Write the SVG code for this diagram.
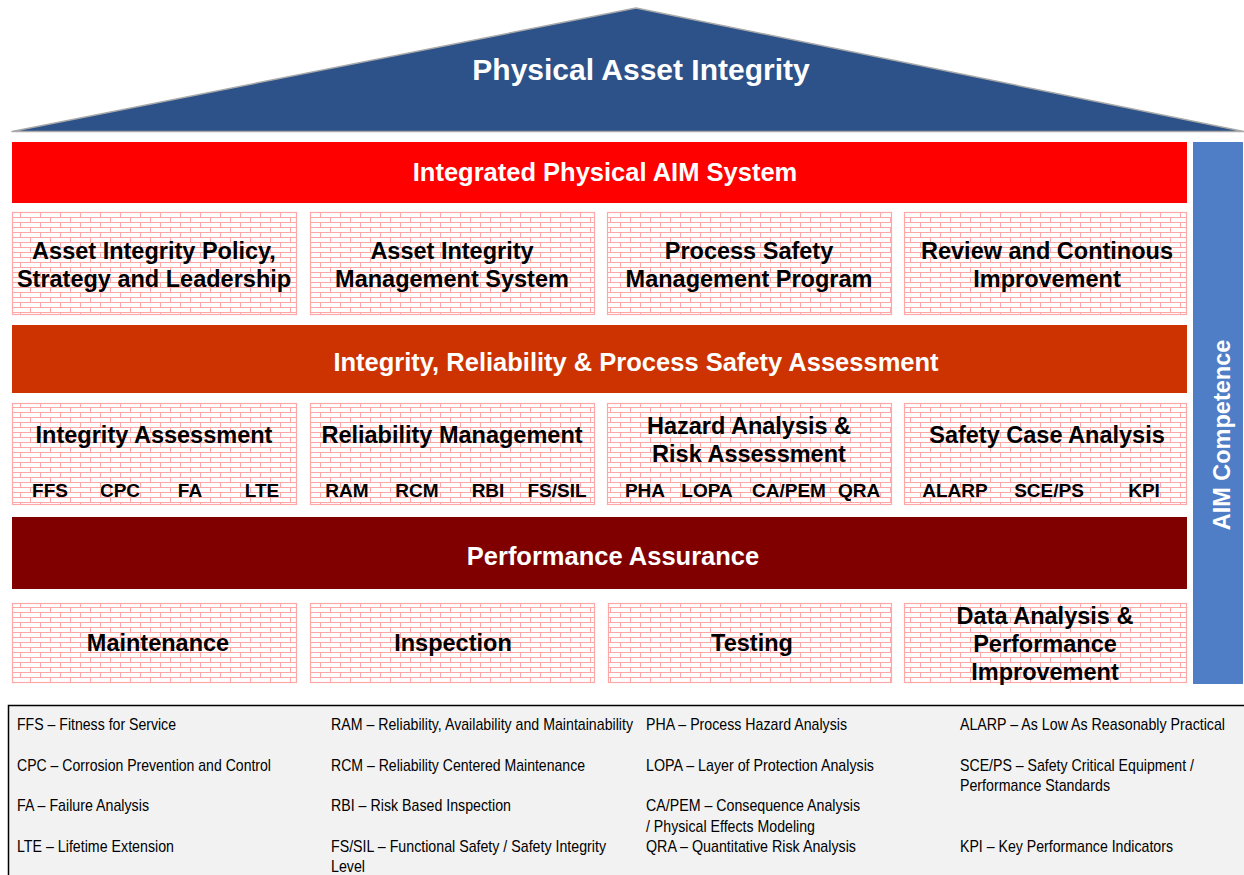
<svg xmlns="http://www.w3.org/2000/svg" width="1244" height="875" viewBox="0 0 1244 875">
  <defs>
    <pattern id="bricks" patternUnits="userSpaceOnUse" x="0" y="2" width="20" height="10">
      <rect width="20" height="10" fill="#ffffff"/>
      <path d="M0 0.5H20M0 5.5H20M0.5 0.5V5.5M10.5 5.5V10.5" fill="none" stroke="#ffa6a6" stroke-width="1"/>
    </pattern>
    <style>
      .brick { fill: url(#bricks); stroke: #ffa8a8; stroke-width: 1.2; }
      .bold { font-family: "Liberation Sans", Arial, sans-serif; font-weight: bold; text-anchor: middle; }
      .boxt { font-size: 23.5px; fill: #000000; }
      .sub { font-size: 19px; fill: #000000; }
      .bar { font-size: 25.5px; fill: #ffffff; }
      .leg { font-family: "Liberation Sans", Arial, sans-serif; font-size: 17px; fill: #000000; }
    </style>
  </defs>

  <rect width="1244" height="875" fill="#ffffff"/>

  <!-- roof -->
  <g id="roof">
    <polygon points="12,131.5 636,8 1244,131.5" fill="#2c5289" stroke="#a9a9a9" stroke-width="1.5" stroke-linejoin="round"/>
    <text class="bold" x="641" y="80" font-size="30" fill="#ffffff">Physical Asset Integrity</text>
  </g>

  <!-- AIM system bar -->
  <g id="aim-system">
    <rect x="12" y="142" width="1175" height="61" fill="#ff0000"/>
    <text class="bold bar" x="605" y="181">Integrated Physical AIM System</text>
  </g>

  <!-- row 1 -->
  <g id="policy">
    <rect class="brick" x="12.5" y="212.5" width="284" height="102"/>
    <text class="bold boxt" x="154" y="258.5">Asset Integrity Policy,</text>
    <text class="bold boxt" x="154" y="286.5">Strategy and Leadership</text>
  </g>
  <g id="aims">
    <rect class="brick" x="310.5" y="212.5" width="284" height="102"/>
    <text class="bold boxt" x="452" y="258.5">Asset Integrity</text>
    <text class="bold boxt" x="452" y="286.5">Management System</text>
  </g>
  <g id="psm">
    <rect class="brick" x="607.5" y="212.5" width="284" height="102"/>
    <text class="bold boxt" x="749" y="258.5">Process Safety</text>
    <text class="bold boxt" x="749" y="286.5">Management Program</text>
  </g>
  <g id="review">
    <rect class="brick" x="904.5" y="212.5" width="282" height="102"/>
    <text class="bold boxt" x="1047" y="258.5">Review and Continous</text>
    <text class="bold boxt" x="1047" y="286.5">Improvement</text>
  </g>

  <!-- assessment bar -->
  <g id="assessment">
    <rect x="12" y="325" width="1175" height="68" fill="#cc3300"/>
    <text class="bold bar" x="636" y="371">Integrity, Reliability &amp; Process Safety Assessment</text>
  </g>

  <!-- row 2 -->
  <g id="integrity-assessment">
    <rect class="brick" x="12.5" y="403.5" width="284" height="101"/>
    <text class="bold boxt" x="154" y="442.5">Integrity Assessment</text>
    <text class="bold sub" x="50" y="497">FFS</text>
    <text class="bold sub" x="120" y="497">CPC</text>
    <text class="bold sub" x="190" y="497">FA</text>
    <text class="bold sub" x="262" y="497">LTE</text>
  </g>
  <g id="reliability">
    <rect class="brick" x="310.5" y="403.5" width="284" height="101"/>
    <text class="bold boxt" x="452" y="442.5">Reliability Management</text>
    <text class="bold sub" x="347" y="497">RAM</text>
    <text class="bold sub" x="417" y="497">RCM</text>
    <text class="bold sub" x="488" y="497">RBI</text>
    <text class="bold sub" x="557" y="497">FS/SIL</text>
  </g>
  <g id="hazard">
    <rect class="brick" x="607.5" y="403.5" width="284" height="101"/>
    <text class="bold boxt" x="749" y="433.5">Hazard Analysis &amp;</text>
    <text class="bold boxt" x="749" y="461.5">Risk Assessment</text>
    <text class="bold sub" x="645" y="497">PHA</text>
    <text class="bold sub" x="707" y="497">LOPA</text>
    <text class="bold sub" x="789" y="497">CA/PEM</text>
    <text class="bold sub" x="859" y="497">QRA</text>
  </g>
  <g id="safety-case">
    <rect class="brick" x="904.5" y="403.5" width="282" height="101"/>
    <text class="bold boxt" x="1047" y="442.5">Safety Case Analysis</text>
    <text class="bold sub" x="955" y="497">ALARP</text>
    <text class="bold sub" x="1049" y="497">SCE/PS</text>
    <text class="bold sub" x="1144" y="497">KPI</text>
  </g>

  <!-- performance bar -->
  <g id="performance">
    <rect x="12" y="517" width="1175" height="72" fill="#800000"/>
    <text class="bold bar" x="613" y="565">Performance Assurance</text>
  </g>

  <!-- row 3 -->
  <g id="maintenance">
    <rect class="brick" x="12.5" y="603.5" width="284" height="79"/>
    <text class="bold boxt" x="158" y="650.5">Maintenance</text>
  </g>
  <g id="inspection">
    <rect class="brick" x="310.5" y="603.5" width="284" height="79"/>
    <text class="bold boxt" x="453" y="650.5">Inspection</text>
  </g>
  <g id="testing">
    <rect class="brick" x="608.5" y="603.5" width="283" height="79"/>
    <text class="bold boxt" x="752" y="650.5">Testing</text>
  </g>
  <g id="data-analysis">
    <rect class="brick" x="904.5" y="603.5" width="282" height="79"/>
    <text class="bold boxt" x="1045" y="623.5">Data Analysis &amp;</text>
    <text class="bold boxt" x="1045" y="651.5">Performance</text>
    <text class="bold boxt" x="1045" y="679.5">Improvement</text>
  </g>

  <!-- competence column -->
  <g id="competence">
    <rect x="1193" y="142" width="50" height="542" fill="#4f7ec6"/>
    <text class="bold" transform="translate(1229.5,435) rotate(-90)" x="0" y="0" font-size="23.5" fill="#ffffff">AIM Competence</text>
  </g>

  <!-- legend -->
  <g id="legend">
    <rect x="8.5" y="705.5" width="1240" height="175" fill="#f2f2f2" stroke="#000000" stroke-width="1.5"/>
    <text class="leg" x="17" y="729.5" textLength="159" lengthAdjust="spacingAndGlyphs">FFS – Fitness for Service</text>
    <text class="leg" x="17" y="770.5" textLength="254" lengthAdjust="spacingAndGlyphs">CPC – Corrosion Prevention and Control</text>
    <text class="leg" x="17" y="810.5" textLength="132" lengthAdjust="spacingAndGlyphs">FA – Failure Analysis</text>
    <text class="leg" x="17" y="851.5" textLength="157" lengthAdjust="spacingAndGlyphs">LTE – Lifetime Extension</text>

    <text class="leg" x="331" y="729.5" textLength="302" lengthAdjust="spacingAndGlyphs">RAM – Reliability, Availability and Maintainability</text>
    <text class="leg" x="331" y="770.5" textLength="254" lengthAdjust="spacingAndGlyphs">RCM – Reliability Centered Maintenance</text>
    <text class="leg" x="331" y="810.5" textLength="180" lengthAdjust="spacingAndGlyphs">RBI – Risk Based Inspection</text>
    <text class="leg" x="331" y="851.5" textLength="275" lengthAdjust="spacingAndGlyphs">FS/SIL – Functional Safety / Safety Integrity</text>
    <text class="leg" x="331" y="871.5" textLength="34" lengthAdjust="spacingAndGlyphs">Level</text>

    <text class="leg" x="646" y="729.5" textLength="201" lengthAdjust="spacingAndGlyphs">PHA – Process Hazard Analysis</text>
    <text class="leg" x="646" y="770.5" textLength="228" lengthAdjust="spacingAndGlyphs">LOPA – Layer of Protection Analysis</text>
    <text class="leg" x="646" y="810.5" textLength="214" lengthAdjust="spacingAndGlyphs">CA/PEM – Consequence Analysis</text>
    <text class="leg" x="646" y="831.5" textLength="169" lengthAdjust="spacingAndGlyphs">/ Physical Effects Modeling</text>
    <text class="leg" x="646" y="851.5" textLength="210" lengthAdjust="spacingAndGlyphs">QRA – Quantitative Risk Analysis</text>

    <text class="leg" x="960" y="729.5" textLength="265" lengthAdjust="spacingAndGlyphs">ALARP – As Low As Reasonably Practical</text>
    <text class="leg" x="960" y="770.5" textLength="234" lengthAdjust="spacingAndGlyphs">SCE/PS – Safety Critical Equipment /</text>
    <text class="leg" x="960" y="790.5" textLength="150" lengthAdjust="spacingAndGlyphs">Performance Standards</text>
    <text class="leg" x="960" y="851.5" textLength="213" lengthAdjust="spacingAndGlyphs">KPI – Key Performance Indicators</text>
  </g>
</svg>
